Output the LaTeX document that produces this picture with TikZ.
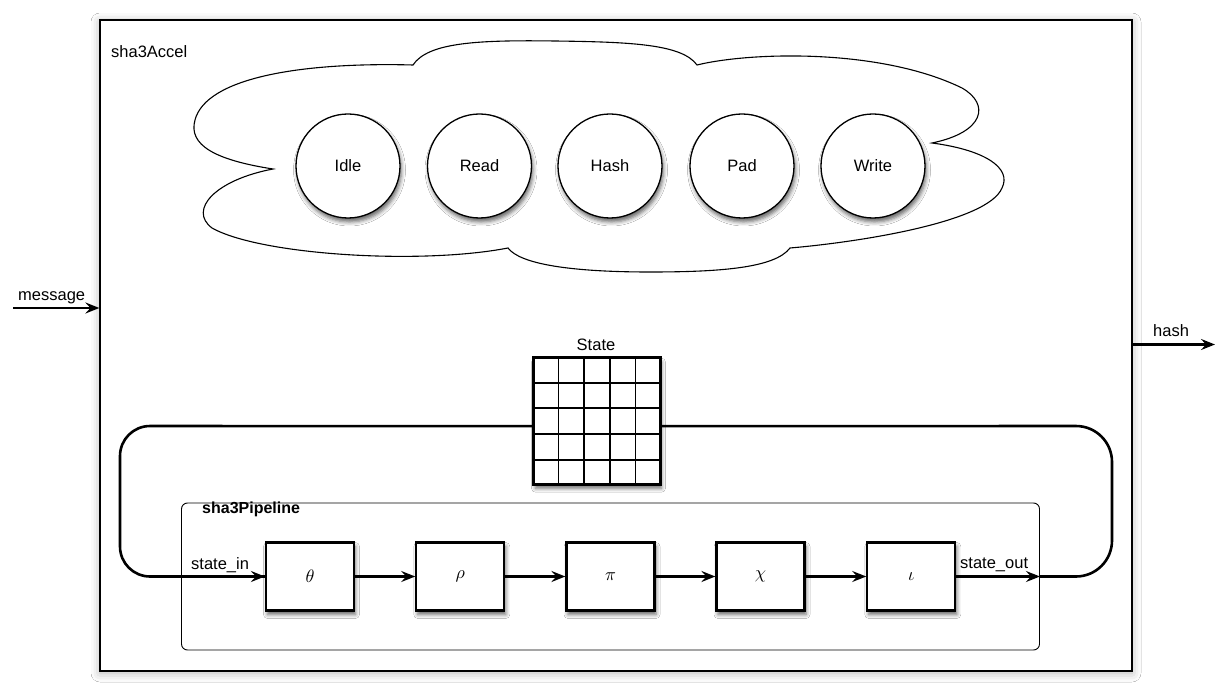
\documentclass[tikz,border=0pt]{standalone}
\usepackage{fontspec}
\setmainfont{Liberation Sans}
\usetikzlibrary{arrows.meta,shadows.blur,calc}
\begin{document}
\begin{tikzpicture}[x=1pt,y=-1pt,
  lbl/.style={font=\fontsize{16.5}{19}\selectfont, inner sep=0pt},
  shad/.style={blur shadow={shadow xshift=1.5pt, shadow yshift=-4pt, shadow blur radius=4pt, shadow opacity=60}},
  outerbox/.style={draw, line width=1.2pt, fill=white, inner sep=0pt,
     blur shadow={shadow xshift=0pt, shadow yshift=-2pt, shadow blur radius=9pt, shadow opacity=30}},
  pipebox/.style={draw, line width=0.9pt, rounded corners=6pt, inner sep=0pt},
  fsm/.style={circle, draw, line width=1.3pt, fill=white, minimum size=104pt, inner sep=0pt, shad, lbl},
  stage/.style={rectangle, draw, line width=2.2pt, fill=white, minimum width=88pt, minimum height=68pt, inner sep=0pt, shad},
  gridbox/.style={rectangle, draw, line width=2.2pt, fill=white, minimum width=126pt, minimum height=126pt, inner sep=0pt, shad},
  gridline/.style={line width=1.8pt},
  arr/.style={line width=2.6pt, -{Stealth[length=14pt,width=11pt,inset=5pt]}},
  loopline/.style={line width=2.6pt},
  cloud/.style={draw, line width=1.1pt, fill=white}
]
\useasboundingbox (0,0) rectangle (1218,700);
\fill[white] (0,0) rectangle (1218,700);

% outer module
\node[outerbox, minimum width=1032pt, minimum height=651pt] (accel) at (616,345.5) {};
\node[lbl, anchor=base west] (accellbl) at (111,58) {sha3Accel};

% cloud
\draw[cloud] (413,65)
  .. controls (428,42) and (480,40) .. (555,41)
  .. controls (630,42) and (682,44) .. (697,65)
  .. controls (750,52) and (880,48) .. (962,88)
  .. controls (990,104) and (985,132) .. (932,143)
  .. controls (985,150) and (1012,168) .. (1002,188)
  .. controls (988,222) and (860,242) .. (790,248)
  .. controls (775,268) and (720,272) .. (650,272)
  .. controls (570,272) and (520,264) .. (508,248)
  .. controls (420,265) and (260,255) .. (212,228)
  .. controls (188,210) and (215,180) .. (273,169)
  .. controls (215,160) and (188,145) .. (195,120)
  .. controls (206,78) and (300,62) .. (413,65) -- cycle;

% FSM states
\node[fsm] (idle)  at (348,166) {Idle};
\node[fsm] (read)  at (479.5,166) {Read};
\node[fsm] (hashs) at (610,166) {Hash};
\node[fsm] (pad)   at (742,166) {Pad};
\node[fsm] (write) at (873,166) {Write};

% message / hash
\coordinate (msgstart) at (13,308);
\draw[arr] (msgstart) -- (msgstart -| accel.west);
\node[lbl, anchor=base west] (msglbl) at (18,300.5) {message};
\coordinate (hashend) at (1215,344.5);
\draw[arr] (hashend -| accel.east) -- (hashend);
\node[lbl, anchor=base west] (hashlbl) at (1153,336.5) {hash};

% pipeline
\node[pipebox, minimum width=858pt, minimum height=147pt] (pipe) at (610.5,576.5) {};
\node[lbl, anchor=base west, font=\bfseries\fontsize{16}{19}\selectfont] (pipelbl) at (202,513.5) {sha3Pipeline};

\node[stage] (theta) at (310,576.5) {\scalebox{1.8}{$\theta$}};
\node[stage] (rho)   at (460.3,576.5) {\scalebox{1.8}{$\rho$}};
\node[stage] (pi)    at (610.5,576.5) {\scalebox{1.8}{$\pi$}};
\node[stage] (chi)   at (760.5,576.5) {\scalebox{1.8}{$\chi$}};
\node[stage] (iota)  at (911.3,576.5) {\scalebox{1.8}{$\iota$}};

\draw[arr] (theta) -- (rho);
\draw[arr] (rho) -- (pi);
\draw[arr] (pi) -- (chi);
\draw[arr] (chi) -- (iota);

\node[lbl, anchor=base west] (inlbl) at (191,569) {state\_in};
\node[lbl, anchor=base west] (outlbl) at (960,568) {state\_out};

% state grid
\node[gridbox] (state) at (597,421.2) {};
\foreach \i in {1,2,3,4} {
  \draw[gridline] ($(state.north west)!\i/5!(state.north east)$) -- ($(state.south west)!\i/5!(state.south east)$);
  \draw[gridline] ($(state.north west)!\i/5!(state.south west)$) -- ($(state.north east)!\i/5!(state.south east)$);
}
\draw[line width=2.2pt] (state.north west) rectangle (state.south east);
\node[lbl, anchor=base] (statelbl) at (596,350.7) {State};

% feedback loop
\draw[loopline, rounded corners=30pt] ([yshift=-5pt]state.west) -- (120,426) -- (120,576.5) -- (theta.west);
\draw[arr] (120,576.5) ++(40,0) -- (theta.west);
\coordinate (pout) at (iota.east -| pipe.east);
\draw[arr] (iota.east) -- (pout);
\draw[loopline, rounded corners=36pt] (pout) -- (1112,576.5) -- (1112,426) -- ([yshift=-5pt]state.east);
\end{tikzpicture}
\end{document}
